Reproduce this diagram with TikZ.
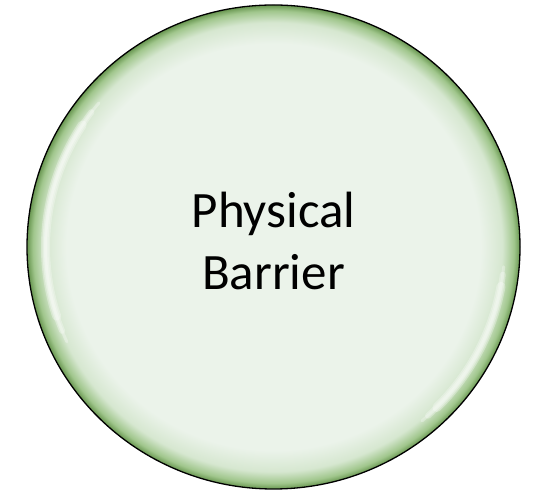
\documentclass[tikz,border=0pt]{standalone}
\usepackage{fontspec}
\setmainfont{Carlito}
\usetikzlibrary{shapes.geometric}

\definecolor{barrierfill}{RGB}{235,243,234}
\definecolor{barrierpale}{RGB}{214,231,208}
\definecolor{barriermid}{RGB}{160,198,140}
\definecolor{barrieredge}{RGB}{104,150,80}
\pgfdeclareradialshading{barrierrim}{\pgfpointorigin}{%
  color(0bp)=(barrierfill); color(21bp)=(barrierfill);
  color(23.2bp)=(barrierpale); color(24.4bp)=(barriermid);
  color(25bp)=(barrieredge); color(50bp)=(barrieredge)}

\begin{document}
\begin{tikzpicture}[x=1pt,y=1pt,
        disc/.style={ellipse,draw=black,line width=1.3pt,shading=barrierrim,
            minimum width=493pt,minimum height=484pt,inner sep=0pt},
        gleam/.style={white,line cap=round,line width=#1,opacity=0.3},
        caption/.style={align=center,inner sep=0pt,font=\fontsize{51}{62}\selectfont}]
    \useasboundingbox (0,0) rectangle (533,492);

    % Barrier
    \node[disc] (barrier) at (273.5,245) {};

    % Highlights (left and right)
    \foreach \w/\a/\b in {9/147/198,6/143/202,3/140/205}
        \draw[gleam=\w] (barrier.center) ++(\a:228 and 224) arc[start angle=\a,end angle=\b,x radius=228,y radius=224];
    \foreach \w/\a/\b in {9/-45/-10,6/-48/-7,3/-50/-5}
        \draw[gleam=\w] (barrier.center) ++(\a:231 and 227) arc[start angle=\a,end angle=\b,x radius=231,y radius=227];

    % Text
    \node[caption] (barriertext) at (273.5,251) {Physical\\Barrier};
\end{tikzpicture}
\end{document}
